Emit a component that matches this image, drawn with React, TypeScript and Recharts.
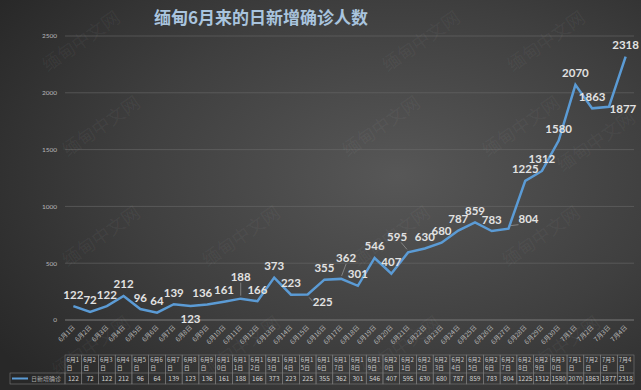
import React from 'react';
import { LineChart, Line, XAxis, YAxis, CartesianGrid, LabelList } from 'recharts';

const dates = [
  '6月1日', '6月2日', '6月3日', '6月4日', '6月5日', '6月6日', '6月7日', '6月8日',
  '6月9日', '6月10日', '6月11日', '6月12日', '6月13日', '6月14日', '6月15日', '6月16日',
  '6月17日', '6月18日', '6月19日', '6月20日', '6月21日', '6月22日', '6月23日', '6月24日',
  '6月25日', '6月26日', '6月27日', '6月28日', '6月29日', '6月30日', '7月1日', '7月2日',
  '7月3日', '7月4日',
];
const cases = [
  122, 72, 122, 212, 96, 64, 139, 123, 136, 161, 188, 166, 373, 223, 225, 355, 362,
  301, 546, 407, 595, 630, 680, 787, 859, 783, 804, 1225, 1312, 1580, 2070, 1863, 1877, 2318,
];
const yTicks = [0, 500, 1000, 1500, 2000, 2500];
const seriesName = '日新增确诊';
const title = '缅甸6月来的日新增确诊人数';
const watermark = '缅甸中文网';

const data = dates.map((date, i) => ({ date, cases: cases[i] }));

const W = 641;
const H = 390;
const LEFT = 65;
const RIGHT = 634;
const BAND = (RIGHT - LEFT) / dates.length;
const TABLE_TOP = 355;
const TABLE_MID = 373;
const TABLE_BOT = 384;
const LINE_COLOR = '#5b9bd5';
const GRID = '#6a6a6a';

// label placement tweaks: [dx, dy, leader line]
const labelPos: Record<number, [number, number, boolean]> = {
  7: [0, 12, false],
  8: [-5, -12, false],
  10: [0, -22, true],
  14: [15, 7, true],
  16: [5, -21, true],
  20: [-11, -16, true],
  26: [20, -10, true],
  32: [14, 2, false],
};

const marks = [
  [80, 40], [420, 40], [545, 40],
  [100, 125], [380, 125], [520, 125], [595, 140],
  [100, 235], [240, 235], [390, 235], [540, 235],
  [90, 345], [240, 345], [400, 345], [560, 345],
];

const PointLabel = (props: any) => {
  const { x, y, value, index } = props;
  const [dx, dy, leader] = labelPos[index] || [0, -12, false];
  const lx = x + dx;
  const ly = y + dy;
  return (
    <g>
      {leader && (
        <line
          x1={x + dx * 0.1}
          y1={y + (dy < 0 ? -3 : 3)}
          x2={lx - (dx > 8 ? 10 : dx < -8 ? -4 : 0)}
          y2={ly + (dy < 0 ? 6 : 0)}
          stroke="#9a9a9a"
          strokeWidth={0.7}
        />
      )}
      <text
        x={lx}
        y={ly}
        textAnchor="middle"
        dominantBaseline="central"
        fill="#e2e2e2"
        fontSize={11.5}
        fontWeight="bold"
        fontFamily="Lato, 'Noto Sans'"
      >
        {value}
      </text>
    </g>
  );
};

const TableTick = (props: any) => {
  const { x, payload } = props;
  const i = payload.index;
  const label: string = payload.value;
  const x0 = x - BAND / 2;
  const font = "'Noto Sans CJK SC', sans-serif";
  return (
    <g>
      <text
        x={x + 2}
        y={328}
        textAnchor="end"
        fill="#b8b8b8"
        fontSize={6.5}
        fontFamily={font}
        transform={`rotate(-45 ${x + 2} 328)`}
      >
        {label}
      </text>
      <rect x={x0} y={TABLE_TOP} width={BAND} height={TABLE_BOT - TABLE_TOP} fill="none" stroke="#7a7a7a" strokeWidth={0.6} />
      <line x1={x0} x2={x0 + BAND} y1={TABLE_MID} y2={TABLE_MID} stroke="#7a7a7a" strokeWidth={0.6} />
      <text x={x0 + 1.5} y={362} fill="#c8c8c8" fontSize={6} fontFamily={font}>
        {label.slice(0, 3)}
      </text>
      <text x={x0 + 1.5} y={370} fill="#c8c8c8" fontSize={6} fontFamily={font}>
        {label.slice(3)}
      </text>
      <text x={x} y={381} textAnchor="middle" fill="#d0d0d0" fontSize={6.5} fontFamily={font}>
        {cases[i]}
      </text>
      {i === 0 && (
        <g>
          <rect x={10} y={TABLE_MID} width={x0 - 10} height={TABLE_BOT - TABLE_MID} fill="none" stroke="#7a7a7a" strokeWidth={0.6} />
          <line x1={12} x2={28} y1={378.5} y2={378.5} stroke={LINE_COLOR} strokeWidth={2} />
          <text x={31} y={381} fill="#a8a8a8" fontSize={6} fontFamily={font}>
            {seriesName}
          </text>
        </g>
      )}
    </g>
  );
};

export default function App() {
  return (
    <div
      style={{
        position: 'absolute',
        left: 0,
        top: 0,
        width: W,
        height: H,
        overflow: 'hidden',
        background: 'radial-gradient(ellipse 75% 80% at 62% 45%, #575757 0%, #3f3f3f 55%, #282828 100%)',
      }}
    >
      <LineChart width={W} height={H} data={data} margin={{ top: 36, right: W - RIGHT, left: 0, bottom: 0 }}>
        <text
          x={261}
          y={16}
          textAnchor="middle"
          dominantBaseline="central"
          fill="#a9c4de"
          fontSize={17}
          fontWeight="bold"
          fontFamily="'Noto Sans CJK SC', sans-serif"
        >
          {title}
        </text>
        <CartesianGrid vertical={false} stroke={GRID} strokeWidth={0.6} />
        <XAxis
          dataKey="date"
          interval={0}
          height={70}
          padding={{ left: BAND / 2, right: BAND / 2 }}
          tickLine={false}
          axisLine={{ stroke: '#777', strokeWidth: 0.8 }}
          tick={<TableTick />}
        />
        <YAxis
          domain={[0, 2500]}
          ticks={yTicks}
          width={LEFT}
          axisLine={false}
          tickLine={false}
          tick={{ fill: '#b8b8b8', fontSize: 6.5, fontFamily: 'Lato, sans-serif' }}
        />
        <Line
          type="linear"
          dataKey="cases"
          name={seriesName}
          stroke={LINE_COLOR}
          strokeWidth={2.5}
          dot={false}
          isAnimationActive={false}
        >
          <LabelList dataKey="cases" content={<PointLabel />} />
        </Line>
      </LineChart>
      <svg width={W} height={H} style={{ position: 'absolute', left: 0, top: 0, pointerEvents: 'none' }}>
        {marks.map(([mx, my], k) => (
          <text
            key={k}
            x={mx}
            y={my}
            textAnchor="middle"
            dominantBaseline="central"
            fill="#ffffff"
            fillOpacity={0.05}
            fontSize={18}
            fontFamily="'Noto Sans CJK SC', sans-serif"
            transform={`rotate(-35 ${mx} ${my})`}
          >
            {watermark}
          </text>
        ))}
      </svg>
    </div>
  );
}
